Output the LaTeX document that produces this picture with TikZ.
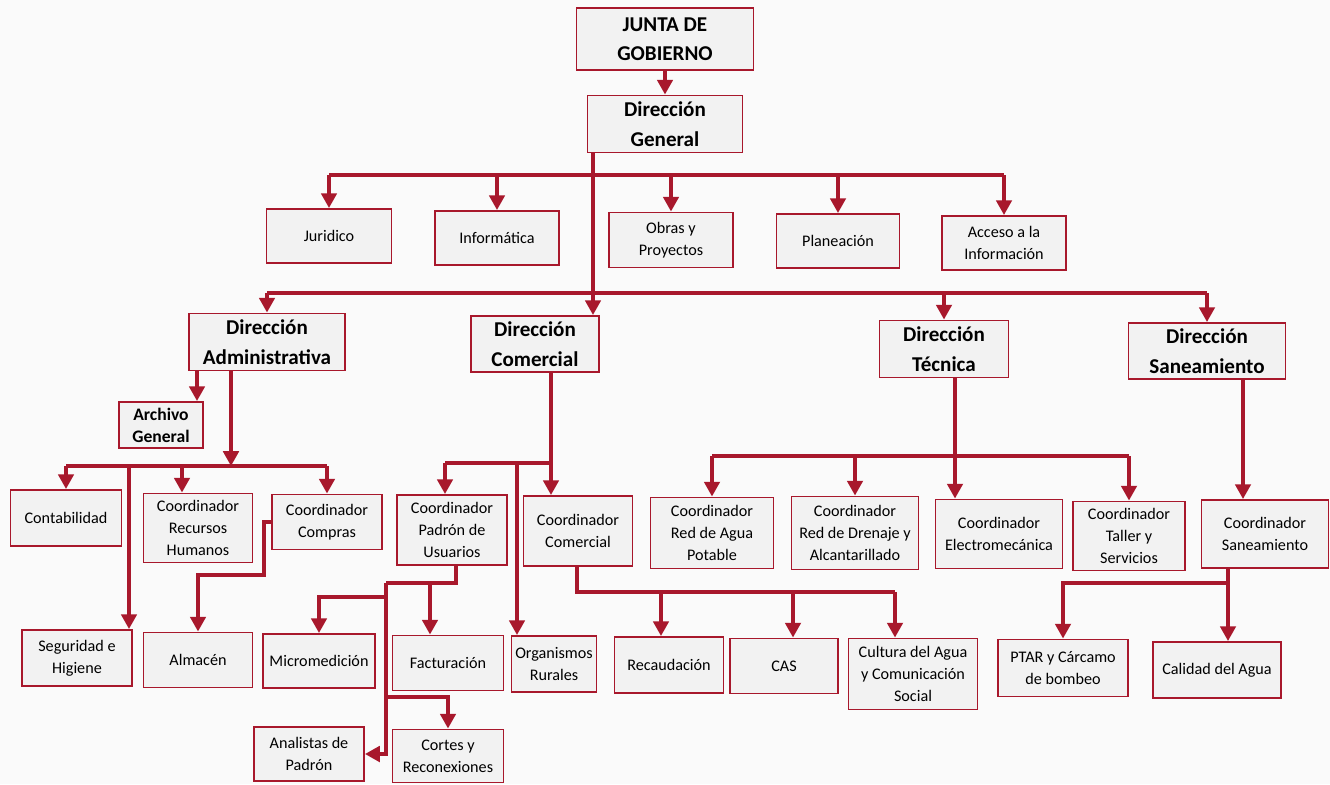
\documentclass[tikz,border=0pt]{standalone}
\usepackage{fontspec}
\setmainfont{Carlito}
\usetikzlibrary{arrows.meta}
\usetikzlibrary{positioning}
\definecolor{orgred}{RGB}{168,24,44}
\tikzset{
    mybox/.style = {rectangle, line width=1.4pt, draw=orgred, align=center, fill=black!5, inner sep=1pt, font=\fontsize{11.5}{15.5}\selectfont, text=black},
    myboxb/.style = {mybox, font=\bfseries\fontsize{15}{21}\selectfont},
    myboxa/.style = {mybox, font=\bfseries\fontsize{12.5}{15.5}\selectfont},
    sz/.style 2 args = {minimum width=#1*0.025cm, minimum height=#2*0.025cm},
    edgen/.style = {-, line width=2.4pt, orgred},
    edgea/.style = {-{Triangle[length=10.5pt,width=11pt]}, line width=2.4pt, orgred}
}

\begin{document}
\begin{tikzpicture}[x=0.025cm,y=-0.025cm]
\path[use as bounding box, fill=black!2] (0,0) rectangle (1330,784);
%
\node[myboxb, sz={177}{62}] at (665,39) (junta) {JUNTA DE\\GOBIERNO};
\node[myboxb, sz={155}{57}] at (665,124) (dgral) {Dirección\\General};
%
\node[mybox, sz={125}{54}] at (329,236) (jur) {Juridico};
\node[mybox, sz={124}{54}] at (497,238) (inf) {Informática};
\node[mybox, sz={124}{55}] at (671,240) (obr) {Obras y\\Proyectos};
\node[mybox, sz={123}{54}] at (838,241) (pla) {Planeación};
\node[mybox, sz={124}{54}] at (1004,243) (acc) {Acceso a la\\Información};
%
\node[myboxb, sz={156}{57}] at (267,342) (dadm) {Dirección\\Administrativa};
\node[myboxb, sz={128}{56}] at (535,344) (dcom) {Dirección\\Comercial};
\node[myboxb, sz={129}{57}] at (944,349) (dtec) {Dirección\\Técnica};
\node[myboxb, sz={157}{56}] at (1207,351) (dsan) {Dirección\\Saneamiento};
%
\node[myboxa, sz={84}{46}] at (161,425) (arch) {Archivo\\General};
\node[mybox, sz={111}{56}] at (66,518) (cont) {Contabilidad};
\node[mybox, sz={109}{69}] at (198,528) (rrhh) {Coordinador\\Recursos\\Humanos};
\node[mybox, sz={110}{55}] at (327,522) (comp) {Coordinador\\Compras};
\node[mybox, sz={110}{56}] at (77,658) (seg) {Seguridad e\\Higiene};
\node[mybox, sz={109}{55}] at (198,660) (alm) {Almacén};
%
\node[mybox, sz={110}{70}] at (452,530) (padr) {Coordinador\\Padrón de\\Usuarios};
\node[mybox, sz={109}{70}] at (578,531) (comm) {Coordinador\\Comercial};
\node[mybox, sz={112}{54}] at (319,661) (mic) {Micromedición};
\node[mybox, sz={111}{55}] at (448,663) (fac) {Facturación};
\node[mybox, sz={85}{56}] at (554,664) (org) {Organismos\\Rurales};
\node[mybox, sz={110}{54}] at (309,754) (ana) {Analistas de\\Padrón};
\node[mybox, sz={111}{53}] at (448,756) (cor) {Cortes y\\Reconexiones};
\node[mybox, sz={109}{56}] at (669,665) (rec) {Recaudación};
\node[mybox, sz={108}{55}] at (784,666) (cas) {CAS};
\node[mybox, sz={129}{71}] at (913,674) (cul) {Cultura del Agua\\y Comunicación\\Social};
%
\node[mybox, sz={123}{71}] at (712,533) (agua) {Coordinador\\Red de Agua\\Potable};
\node[mybox, sz={127}{73}] at (855,533) (dren) {Coordinador\\Red de Drenaje y\\Alcantarillado};
\node[mybox, sz={127}{69}] at (999,534) (ele) {Coordinador\\Electromecánica};
\node[mybox, sz={112}{69}] at (1129,536) (tall) {Coordinador\\Taller y\\Servicios};
\node[mybox, sz={127}{68}] at (1265,534) (csan) {Coordinador\\Saneamiento};
\node[mybox, sz={130}{57}] at (1063,668) (ptar) {PTAR y Cárcamo\\de bombeo};
\node[mybox, sz={128}{56}] at (1217,670) (cal) {Calidad del Agua};
%
% junction points of the buses
\coordinate (b1) at (593,175);
\coordinate (b2) at (593,293);
\coordinate (b3) at (231,466);
\coordinate (b4) at (551,463);
\coordinate (b5) at (955,456);
\coordinate (b6) at (577,592);
\coordinate (b7) at (1228,583);
\coordinate (b8) at (386,583);
\coordinate (k1) at (264,575);
\coordinate (k2) at (129,466);
\coordinate (k3) at (517,463);
%
\draw[edgea] (junta) -- (dgral);
\draw[edgea] (dgral.south -| b1) -- (dcom.north -| b1);
\draw[edgen] (jur.north |- b1) -- (acc.north |- b1);
\foreach \n in {jur,inf,obr,pla,acc}
    \draw[edgea] (\n.north |- b1) -- (\n);
\draw[edgen] (dadm.north |- b2) -- (dsan.north |- b2);
\foreach \n in {dadm,dtec,dsan}
    \draw[edgea] (\n.north |- b2) -- (\n);
%
\draw[edgea] (dadm.south -| 197,0) -- (arch.north -| 197,0);
\draw[edgea] (dadm.south -| b3) -- (b3);
\draw[edgen] (cont.north |- b3) -- (comp.north |- b3);
\draw[edgea] (cont.north |- b3) -- (cont);
\draw[edgea] (b3 -| 182,0) -- (rrhh.north -| 182,0);
\draw[edgea] (comp.north |- b3) -- (comp);
\draw[edgea] (k2) -- (seg.north -| k2);
\draw[edgea] (comp.west) -| (k1) -| (alm.north);
%
\draw[edgea] (dcom.south -| b4) -- (comm.north -| b4);
\draw[edgen] (b4) -- (b4 -| 445,0);
\draw[edgea] (b4 -| 445,0) -- (padr.north -| 445,0);
\draw[edgea] (k3) -- (org.north -| k3);
\draw[edgen] (padr.south -| 456,0) |- (b8);
\draw[edgea] (b8 -| 430,0) -- (fac.north -| 430,0);
\draw[edgea] (b8) |- (mic.north |- 0,597) -- (mic.north);
\draw[edgea] (b8) |- (cor.north |- 0,697) -- (cor.north);
\draw[edgea] (b8) |- (ana.east);
%
\draw[edgen] (comm.south -| b6) |- (b6 -| 895,0);
\draw[edgea] (b6 -| 661,0) -- (rec.north -| 661,0);
\draw[edgea] (b6 -| 793,0) -- (cas.north -| 793,0);
\draw[edgea] (b6 -| 895,0) -- (cul.north -| 895,0);
%
\draw[edgea] (dtec.south -| b5) -- (ele.north -| b5);
\draw[edgen] (agua.north |- b5) -- (tall.north |- b5);
\foreach \n in {agua,dren,tall}
    \draw[edgea] (\n.north |- b5) -- (\n);
\draw[edgea] (dsan.south -| 1243,0) -- (csan.north -| 1243,0);
\draw[edgen] (csan.south -| b7) -- (b7);
\draw[edgea] (b7) -| (ptar.north);
\draw[edgea] (b7) -- (cal.north -| b7);

\end{tikzpicture}
\end{document}
